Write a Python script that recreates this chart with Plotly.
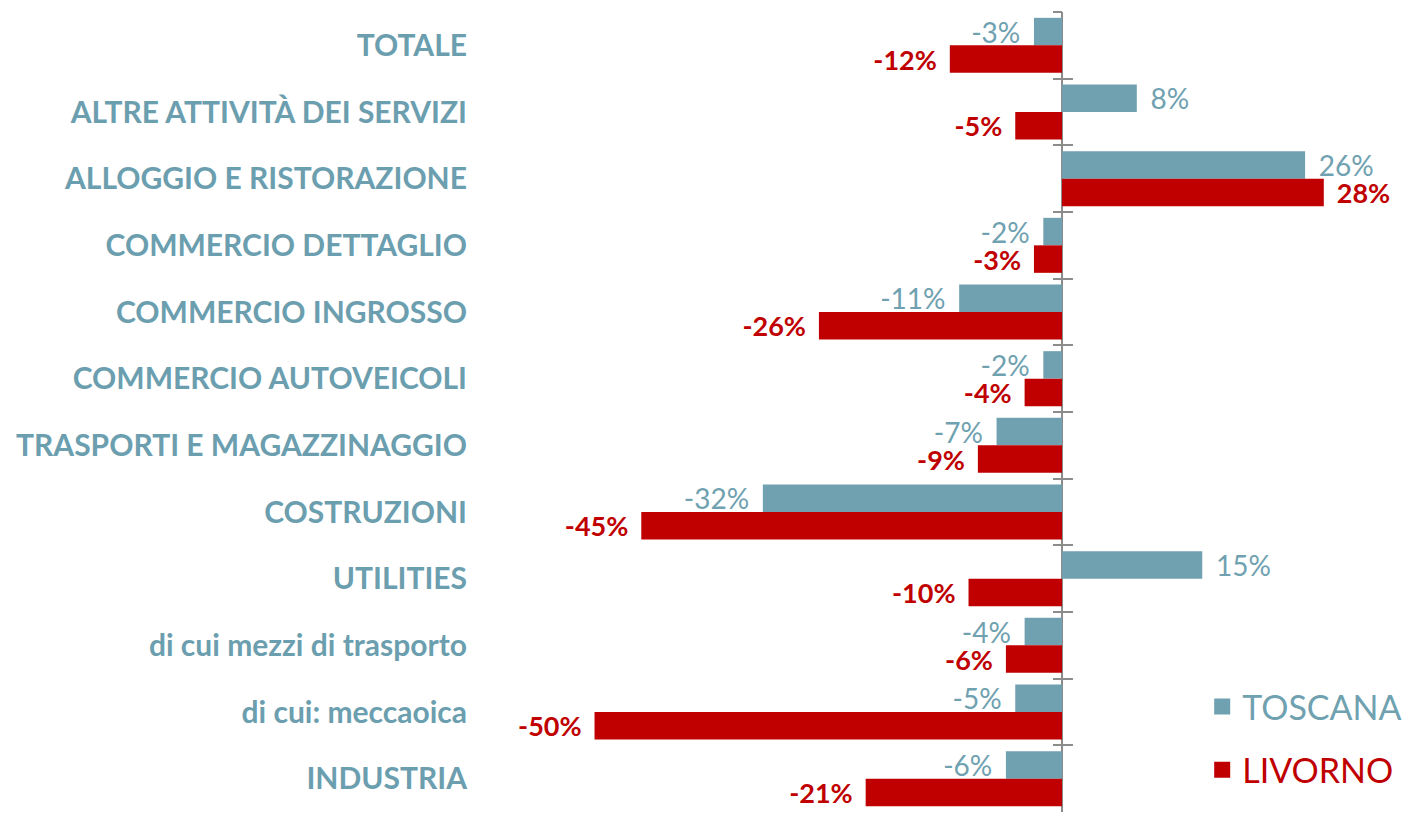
import plotly.graph_objects as go

categories = [
    "TOTALE",
    "ALTRE ATTIVITÀ DEI SERVIZI",
    "ALLOGGIO E RISTORAZIONE",
    "COMMERCIO DETTAGLIO",
    "COMMERCIO INGROSSO",
    "COMMERCIO AUTOVEICOLI",
    "TRASPORTI E MAGAZZINAGGIO",
    "COSTRUZIONI",
    "UTILITIES",
    "di cui mezzi di trasporto",
    "di cui: meccaoica",
    "INDUSTRIA",
]
toscana = [-3, 8, 26, -2, -11, -2, -7, -32, 15, -4, -5, -6]
livorno = [-12, -5, 28, -3, -26, -4, -9, -45, -10, -6, -50, -21]

C_TOS = "#6FA1B0"
C_LIV = "#C00000"
C_LAB = "#6B9EAE"
C_AX = "#8C8C8C"
FONT = "Lato"
PAD = "\u00a0\u2009"


def labels(vals):
    return [(f"{v}%" + PAD) if v < 0 else (PAD + f"{v}%") for v in vals]


fig = go.Figure()
fig.add_trace(go.Bar(
    name="TOSCANA", y=categories, x=toscana, orientation="h",
    marker=dict(color=C_TOS, line=dict(width=0)),
    text=labels(toscana), textposition="outside", cliponaxis=False,
    constraintext="none",
    textfont=dict(family=FONT, size=28, color=C_TOS),
    showlegend=False, hoverinfo="skip",
))
fig.add_trace(go.Bar(
    name="LIVORNO", y=categories, x=livorno, orientation="h",
    marker=dict(color=C_LIV, line=dict(width=0)),
    text=labels(livorno), textposition="outside", cliponaxis=False,
    constraintext="none",
    textfont=dict(family=FONT, size=27, color=C_LIV, weight="bold"),
    showlegend=False, hoverinfo="skip",
))

# legend entries
fig.add_trace(go.Scatter(
    x=[None], y=[None], mode="markers", name=f"<span style='color:{C_TOS}'>TOSCANA</span>",
    marker=dict(symbol="square", size=16, color=C_TOS), legendgroup="a",
))
fig.add_trace(go.Scatter(
    x=[None], y=[None], mode="markers", name=f"<span style='color:{C_LIV}'>LIVORNO</span>",
    marker=dict(symbol="square", size=16, color=C_LIV), legendgroup="b",
))

# invisible traces to carry the boundary tick axes at zero
for ax in ("y2", "y3"):
    fig.add_trace(go.Scatter(
        x=[0] * len(categories), y=categories, yaxis=ax, mode="markers",
        marker=dict(opacity=0), showlegend=False, hoverinfo="skip",
    ))

xmin, xmax = -62.25, 36.15
zero_pos = (0 - xmin) / (xmax - xmin)
yrange = [len(categories) - 0.5, -0.5]

common_y = dict(type="category", categoryorder="array", categoryarray=categories,
                range=yrange, showgrid=False, zeroline=False)

fig.update_layout(
    width=1404, height=808,
    margin=dict(l=472, r=12, t=4, b=4, autoexpand=False),
    paper_bgcolor="white", plot_bgcolor="white",
    barmode="group", bargap=0.175, bargroupgap=0,
    font=dict(family=FONT),
    xaxis=dict(range=[xmin, xmax], showgrid=False, showticklabels=False, ticks="",
               zeroline=True, zerolinecolor=C_AX, zerolinewidth=2, fixedrange=True),
    yaxis=dict(**common_y, ticks="", showline=False, automargin=False,
               tickfont=dict(family=FONT, size=30, color=C_LAB, weight="bold"),
               ticklabelstandoff=12),
    yaxis2=dict(**common_y, overlaying="y", anchor="free", position=zero_pos, side="left",
                showticklabels=False, ticks="outside", tickson="boundaries",
                ticklen=9, tickwidth=2, tickcolor=C_AX, showline=False),
    yaxis3=dict(**common_y, overlaying="y", anchor="free", position=zero_pos, side="left",
                showticklabels=False, ticks="inside", tickson="boundaries",
                ticklen=10, tickwidth=2, tickcolor=C_AX, showline=False),
    legend=dict(x=0.785, xanchor="left", y=0.092, yanchor="middle",
                font=dict(family=FONT, size=34), tracegroupgap=16,
                bgcolor="rgba(0,0,0,0)"),
    showlegend=True,
)

fig.write_html("out.html")
